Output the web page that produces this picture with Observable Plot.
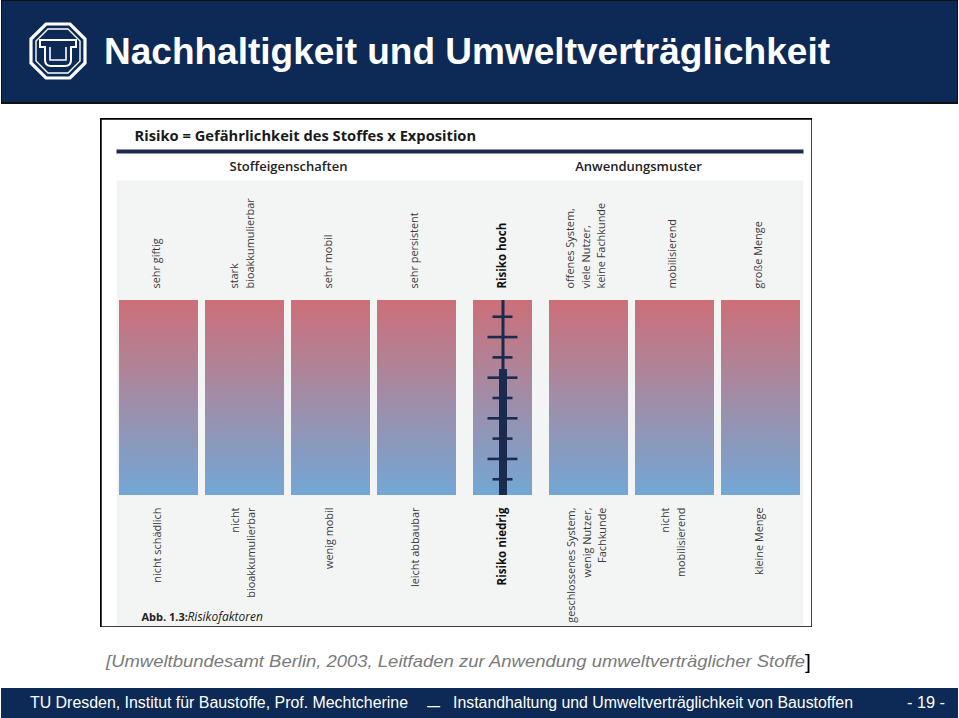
<!DOCTYPE html>
<html>
<head>
<meta charset="utf-8">
<script src="https://cdn.jsdelivr.net/npm/d3@7"></script>
<script src="https://cdn.jsdelivr.net/npm/@observablehq/plot@0.6"></script>
<style>
html, body { margin: 0; padding: 0; background: #fff; }
#page { position: relative; width: 959px; height: 718px; overflow: hidden; font-family: "Liberation Sans", Arial, sans-serif; }
#header { position: absolute; left: 1px; top: 0; width: 955px; height: 101px; background: #0c2a55; border: 1px solid #111; border-bottom: 2px solid #111; }
#logo { position: absolute; left: 27px; top: 21px; }
.fit { position: absolute; white-space: nowrap; display: inline-block; transform-origin: left center; }
#title { left: 104px; top: 34px; font-size: 36px; line-height: 36px; font-weight: bold; color: #fff; }
#fig { position: absolute; left: 100px; top: 118px; width: 712px; height: 509px; overflow: hidden; }
#source { left: 106px; top: 653px; font-size: 17px; line-height: 17px; font-style: italic; color: #7a7a7a; }
#bracket { left: 805px; top: 651px; font-size: 21px; line-height: 21px; color: #000; }
#footer { position: absolute; left: 1px; top: 688px; width: 957px; height: 30px; background: #0c2a55; }
.foot { top: 695px; font-size: 16px; line-height: 16px; color: #fff; }
</style>
</head>
<body>
<div id="page">
  <div id="header">
    <svg id="logo" width="58" height="58" viewBox="0 0 58 58">
      <g fill="none" stroke="#fff">
        <polygon points="17,2 41,2 56,17 56,41 41,56 17,56 2,41 2,17" stroke-width="3.2"/>
        <polygon points="19,7 39,7 51,19 51,39 39,51 19,51 7,39 7,19" stroke-width="1.4"/>
        <path d="M11,18 H47 V25 H42 V38 Q42,44 36,44 H22 Q16,44 16,38 V25 H11 Z" stroke-width="2"/>
        <path d="M21,25 V38 H37 V25" stroke-width="1.6"/>
      </g>
    </svg>
  </div>
  <div id="title" class="fit" data-w="726">Nachhaltigkeit und Umweltverträglichkeit</div>
  <div id="fig"></div>
  <div id="source" class="fit" data-w="699">[Umweltbundesamt Berlin, 2003, Leitfaden zur Anwendung umweltverträglicher Stoffe</div>
  <div id="bracket" class="fit">]</div>
  <div id="footer"></div>
  <div class="fit foot" style="left:30px" data-w="378">TU Dresden, Institut für Baustoffe, Prof. Mechtcherine</div>
  <div class="fit foot" style="left:427px;top:698px" data-w="13">–</div>
  <div class="fit foot" style="left:453px" data-w="400">Instandhaltung und Umweltverträglichkeit von Baustoffen</div>
  <div class="fit foot" style="left:907px" data-w="38">- 19 -</div>
</div>
<script>
// ---- data ----
const figureTitle = "Risiko = Gefährlichkeit des Stoffes x Exposition";
const groups = ["Stoffeigenschaften", "Anwendungsmuster"];
const figureCaption = ["Abb. 1.3:", "Risikofaktoren"];
const factors = ["Giftigkeit", "Bioakkumulation", "Mobilität", "Persistenz", "Risiko", "System", "Mobilisierung", "Menge"];
const highLabels = ["sehr giftig", "stark\nbioakkumulierbar", "sehr mobil", "sehr persistent", "Risiko hoch", "offenes System,\nviele Nutzer,\nkeine Fachkunde", "mobilisierend", "große Menge"];
const lowLabels = ["nicht schädlich", "nicht\nbioakkumulierbar", "wenig mobil", "leicht abbaubar", "Risiko niedrig", "geschlossenes System,\nwenig Nutzer,\nFachkunde", "nicht\nmobilisierend", "kleine Menge"];
const riskColumn = "Risiko";
const scaleMin = 0.2, scaleMax = 9.8;
const riskTicks = [1, 2, 3, 4, 5, 6, 7, 8, 9];
const riskLevel = 6.4;

const high = factors.map((f, i) => ({f, label: highLabels[i]}));
const low = factors.map((f, i) => ({f, label: lowLabels[i]}));
const isRisk = d => d.f === riskColumn;
const labelColor = "#3c3c3c";
const navy = "#1b2a4f";
const labelSize = 10.9;

const svg = Plot.plot({
  width: 712, height: 509,
  marginTop: 0, marginRight: 0, marginBottom: 0, marginLeft: 0,
  style: {fontFamily: "'Open Sans', sans-serif", background: "#fff"},
  x: {type: "band", domain: factors, range: [17, 703], paddingInner: 0.076, paddingOuter: 0, axis: null},
  y: {domain: [scaleMin, scaleMax], range: [377, 182], axis: null},
  marks: [
    Plot.frame({fill: "#f3f5f5", stroke: null, insetLeft: 16, insetRight: 9, insetTop: 62, insetBottom: 0}),
    Plot.frame({fill: navy, stroke: null, insetLeft: 16, insetRight: 9, insetTop: 31, insetBottom: 474}),
    Plot.text([figureTitle], {frameAnchor: "top-left", dx: 34, dy: 18, lineAnchor: "middle", textAnchor: "start", fontWeight: "bold", fontSize: 14.7, fill: "#1a1a1a"}),
    Plot.text([groups[0]], {frameAnchor: "top-left", dx: 188, dy: 48, lineAnchor: "middle", textAnchor: "middle", fontWeight: 600, fontSize: 13, fill: "#222"}),
    Plot.text([groups[1]], {frameAnchor: "top-left", dx: 538, dy: 48, lineAnchor: "middle", textAnchor: "middle", fontWeight: 600, fontSize: 13, fill: "#222"}),
    Plot.barY(factors.filter(f => f !== riskColumn), {x: d => d, y1: scaleMin, y2: scaleMax, fill: "url(#riskGrad)"}),
    Plot.barY([riskColumn], {x: d => d, y1: scaleMin, y2: scaleMax, fill: "url(#riskGrad)", insetLeft: 10, insetRight: 10}),
    Plot.ruleX([riskColumn], {x: d => d, y1: riskLevel, y2: scaleMax, stroke: navy, strokeWidth: 3}),
    Plot.ruleX([riskColumn], {x: d => d, y1: scaleMin, y2: riskLevel, stroke: navy, strokeWidth: 8}),
    Plot.tickY(riskTicks.filter(t => t % 2 === 0), {x: () => riskColumn, y: d => d, stroke: navy, strokeWidth: 2.6, insetLeft: 24.5, insetRight: 24.5}),
    Plot.tickY(riskTicks.filter(t => t % 2 === 1), {x: () => riskColumn, y: d => d, stroke: navy, strokeWidth: 2.6, insetLeft: 29.5, insetRight: 29.5}),
    Plot.text(high.filter(d => !isRisk(d)), {x: "f", text: "label", frameAnchor: "top", dy: 170, dx: -4, rotate: -90, textAnchor: "start", lineAnchor: "middle", lineHeight: 1.42, fontSize: labelSize, fill: labelColor}),
    Plot.text(high.filter(isRisk), {x: "f", text: "label", frameAnchor: "top", dy: 170, dx: -1, rotate: -90, textAnchor: "start", lineAnchor: "middle", fontSize: 11.5, fontWeight: "bold", fill: "#111"}),
    Plot.text(low.filter(d => !isRisk(d)), {x: "f", text: "label", frameAnchor: "top", dy: 389, dx: -3, rotate: -90, textAnchor: "end", lineAnchor: "middle", lineHeight: 1.42, fontSize: labelSize, fill: labelColor}),
    Plot.text(low.filter(isRisk), {x: "f", text: "label", frameAnchor: "top", dy: 389, dx: -1, rotate: -90, textAnchor: "end", lineAnchor: "middle", fontSize: 11.5, fontWeight: "bold", fill: "#111"}),
    Plot.text([figureCaption[0]], {frameAnchor: "bottom-left", dx: 41, dy: -10, lineAnchor: "middle", textAnchor: "start", fontWeight: "bold", fontSize: 11, fill: "#222"}),
    Plot.text([figureCaption[1]], {frameAnchor: "bottom-left", dx: 87, dy: -10, lineAnchor: "middle", textAnchor: "start", fontStyle: "italic", fontSize: 12, fill: "#222"}),
    Plot.frame({stroke: "#000", strokeWidth: 2.5, fill: null})
  ]
});

const defs = d3.select(svg).insert("defs", ":first-child");
const grad = defs.append("linearGradient").attr("id", "riskGrad").attr("x1", 0).attr("y1", 0).attr("x2", 0).attr("y2", 1);
grad.append("stop").attr("offset", "0%").attr("stop-color", "#cd6f77");
grad.append("stop").attr("offset", "50%").attr("stop-color", "#a28ca7");
grad.append("stop").attr("offset", "100%").attr("stop-color", "#72a7d5");

document.getElementById("fig").appendChild(svg);

document.querySelectorAll(".fit[data-w]").forEach(el => {
  const w = el.getBoundingClientRect().width;
  el.style.transform = `scaleX(${(+el.dataset.w) / w})`;
});
</script>
</body>
</html>
